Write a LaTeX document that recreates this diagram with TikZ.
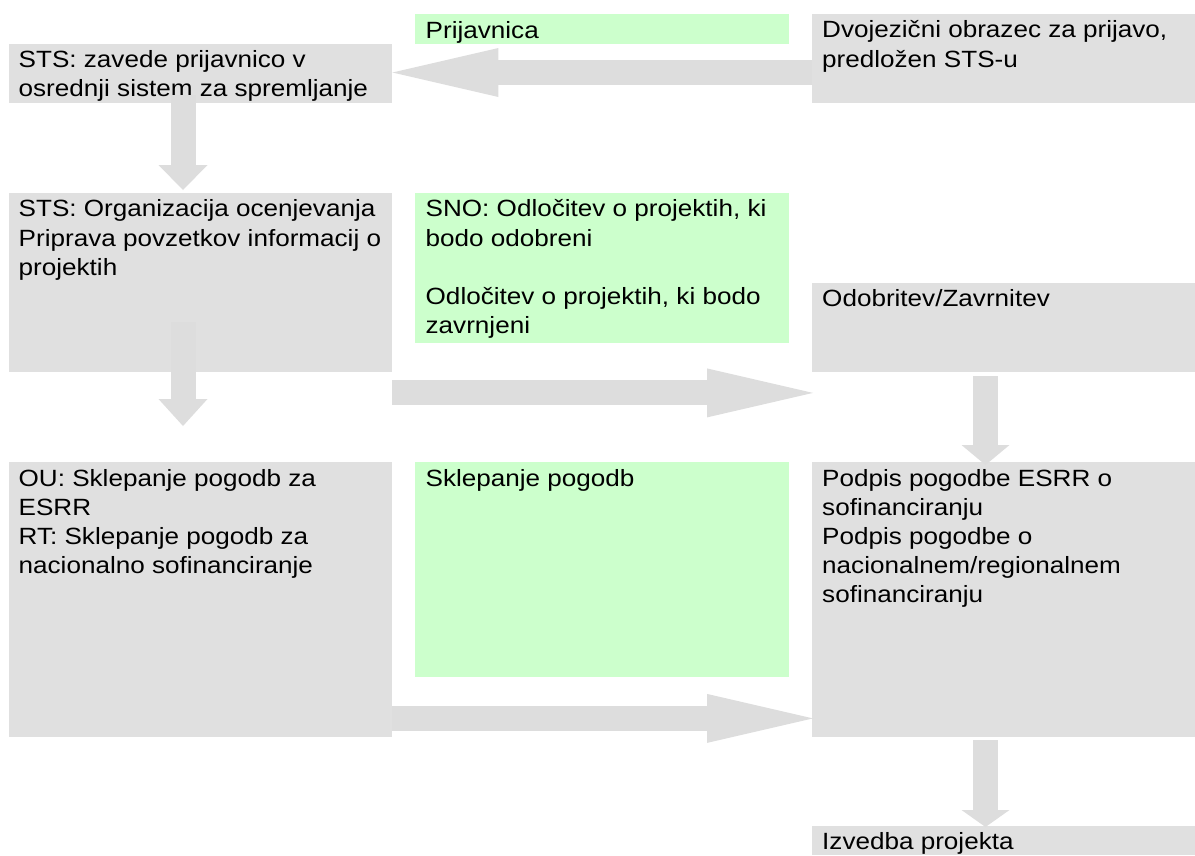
\documentclass[tikz,border=0pt]{standalone}
\usepackage{fontspec}
\setmainfont{Liberation Sans}[FakeStretch=1.11]
\usetikzlibrary{arrows.meta,calc}
\definecolor{boxgray}{RGB}{224,224,224}
\definecolor{arrgray}{RGB}{221,221,221}
\definecolor{boxgreen}{RGB}{204,255,204}
\newcommand{\boxtext}[1]{\parbox[t]{372pt}{\raggedright #1}}
\tikzset{
  graybox/.style={fill=boxgray, draw=none, inner sep=0pt, anchor=north west},
  greenbox/.style={fill=boxgreen, draw=none, inner sep=0pt, anchor=north west},
  txt/.style={inner sep=0pt, anchor=base west, font=\fontsize{23.5}{29.2}\selectfont, text=black},
  bigarrow/.style={draw=arrgray, line width=25pt, line cap=butt},
}
\begin{document}
\begin{tikzpicture}[x=1pt, y=-1pt]
\useasboundingbox (0,0) rectangle (1195,855);
% boxes
\node[graybox, minimum width=383pt, minimum height=59pt] (b1) at (9,44) {};
\node[greenbox, minimum width=374pt, minimum height=30pt] (prij) at (415,14) {};
\node[graybox, minimum width=383pt, minimum height=89pt] (dvo) at (812,14) {};
\node[graybox, minimum width=383pt, minimum height=179pt] (b3) at (9,193) {};
\node[greenbox, minimum width=374pt, minimum height=150pt] (sno) at (415,193) {};
\node[graybox, minimum width=383pt, minimum height=89pt] (odob) at (812,283) {};
\node[graybox, minimum width=383pt, minimum height=275pt] (ou) at (9,462) {};
\node[greenbox, minimum width=374pt, minimum height=215pt] (sklep) at (415,462) {};
\node[graybox, minimum width=383pt, minimum height=275pt] (podpis) at (812,462) {};
\node[graybox, minimum width=383pt, minimum height=29pt] (izv) at (812,826) {};
% texts
\node[txt] (t-b1) at ($(b1.north west)+(9.5,23.5)$) {\boxtext{STS: zavede prijavnico v\newline osrednji sistem za spremljanje}};
\node[txt] (t-prij) at ($(prij.north west)+(10.5,24)$) {\boxtext{Prijavnica}};
\node[txt] (t-dvo) at ($(dvo.north west)+(10,23.8)$) {\boxtext{Dvojezični obrazec za prijavo,\newline predložen STS-u}};
\node[txt] (t-b3) at ($(b3.north west)+(9.5,23.8)$) {\boxtext{STS: Organizacija ocenjevanja\newline Priprava povzetkov informacij o\newline projektih}};
\node[txt] (t-sno) at ($(sno.north west)+(10.5,23.8)$) {\boxtext{SNO: Odločitev o projektih, ki\newline bodo odobreni\newline\mbox{}\newline Odločitev o projektih, ki bodo\newline zavrnjeni}};
\node[txt] (t-odob) at ($(odob.north west)+(10,23.8)$) {\boxtext{Odobritev/Zavrnitev}};
\node[txt] (t-ou) at ($(ou.north west)+(9.5,24)$) {\boxtext{OU: Sklepanje pogodb za\newline ESRR\newline RT: Sklepanje pogodb za\newline nacionalno sofinanciranje}};
\node[txt] (t-sklep) at ($(sklep.north west)+(10.5,24)$) {\boxtext{Sklepanje pogodb}};
\node[txt] (t-podpis) at ($(podpis.north west)+(10,24)$) {\boxtext{Podpis pogodbe ESRR o\newline sofinanciranju\newline Podpis pogodbe o\newline nacionalnem/regionalnem\newline sofinanciranju}};
\node[txt] (t-izv) at ($(izv.north west)+(10,23)$) {\boxtext{Izvedba projekta}};
% arrows
\coordinate (a1s) at ($(dvo.north west)+(0,58.5)$);
\coordinate (a1e) at ($(b1.north east)+(0,28.5)$);
\draw[bigarrow, -{Triangle[length=106pt,width=49pt,line width=0pt]}] (a1s) -- (a1e);
\coordinate (a2s) at ($(b1.south west)+(174,-8)$);
\coordinate (a2e) at ($(b3.north west)+(174,-3)$);
\draw[bigarrow, -{Triangle[length=25pt,width=49pt,line width=0pt]}] (a2s) -- (a2e);
\coordinate (a3s) at ($(b3.south west)+(174,-50)$);
\coordinate (a3e) at ($(ou.north west)+(174,-36)$);
\draw[bigarrow, -{Triangle[length=27pt,width=49pt,line width=0pt]}] (a3s) -- (a3e);
\coordinate (a4s) at ($(b3.south east)+(0,20.5)$);
\coordinate (a4e) at ($(odob.south west)+(1,20.5)$);
\draw[bigarrow, -{Triangle[length=106pt,width=49pt,line width=0pt]}] (a4s) -- (a4e);
\coordinate (a5s) at ($(odob.south west)+(173.5,4)$);
\coordinate (a5e) at ($(podpis.north west)+(173.5,3)$);
\draw[bigarrow, -{Triangle[length=20pt,width=48pt,line width=0pt]}] (a5s) -- (a5e);
\coordinate (a6s) at ($(ou.south east)+(0,-19)$);
\coordinate (a6e) at ($(podpis.south west)+(1,-19)$);
\draw[bigarrow, -{Triangle[length=106pt,width=49pt,line width=0pt]}] (a6s) -- (a6e);
\coordinate (a7s) at ($(podpis.south west)+(173.5,3)$);
\coordinate (a7e) at ($(izv.north west)+(173.5,1)$);
\draw[bigarrow, -{Triangle[length=17pt,width=48pt,line width=0pt]}] (a7s) -- (a7e);
\end{tikzpicture}
\end{document}
